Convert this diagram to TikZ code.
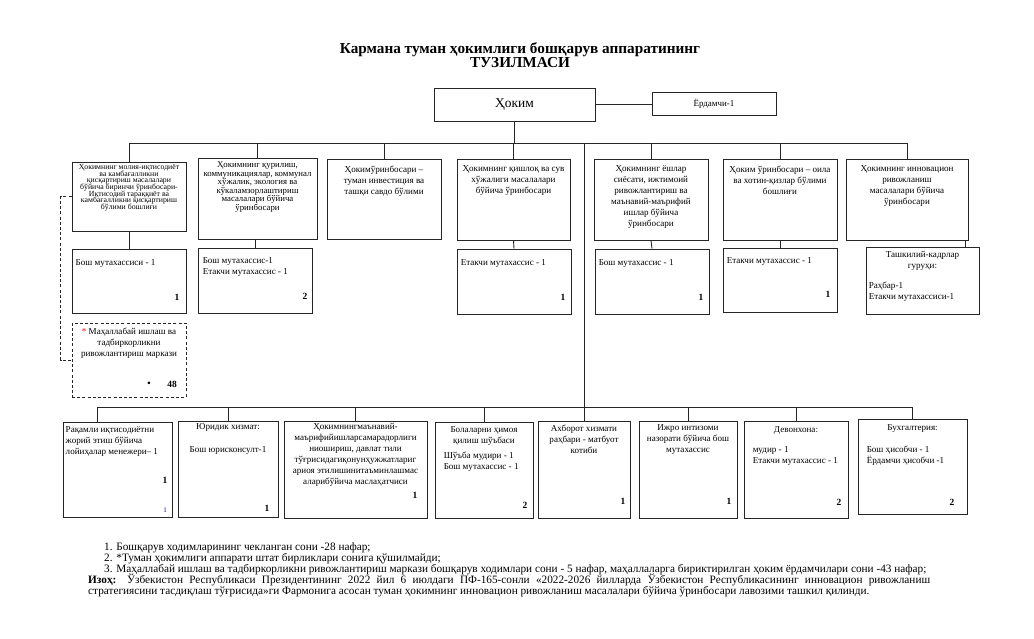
\documentclass[tikz,border=0pt]{standalone}
\usepackage{fontspec}
\setmainfont{Liberation Serif}
\usetikzlibrary{positioning}
\newcommand\tightskip{\lineskiplimit=-20pt\relax}

\begin{document}
\begin{tikzpicture}[x=1bp,y=-1bp,
  box/.style={draw=black!85,line width=0.9bp,inner sep=0pt},
  dbox/.style={box,dash pattern=on 3bp off 2.2bp},
  link/.style={draw=black!85,line width=0.9bp},
  ctxt/.style={inner sep=0pt,align=center,font=\fontsize{9.1}{11}\selectfont},
  ltxt/.style={inner sep=0pt,align=left,font=\fontsize{9.1}{11}\selectfont},
  num/.style={inner sep=0pt,font=\fontsize{9.5}{10}\selectfont\bfseries},
  note/.style={inner sep=0pt,anchor=base west,font=\fontsize{11.3}{11}\selectfont}]

  \useasboundingbox (0,0) rectangle (1034,639);
  \fill[white] (0,0) rectangle (1034,639);

  % title
  \node[inner sep=0pt,align=center,font=\fontsize{15.3}{13.5}\selectfont\bfseries\tightskip] (title) at (520,55)
    {Кармана туман ҳокимлиги бошқарув аппаратининг\\ТУЗИЛМАСИ};

  % head
  \node[box,minimum width=161bp,minimum height=33bp,font=\fontsize{13.5}{14}\selectfont] (hokim) at (514.5,104.5) {Ҳоким};
  \node[box,minimum width=124bp,minimum height=23bp,font=\fontsize{9}{10}\selectfont] (yordam) at (714,103.5) {Ёрдамчи-1};
  \coordinate (hbus) at (514.5,143);
  \coordinate (lbus) at (584,407);

  % deputies
  \node[box,minimum width=114bp,minimum height=69bp] (t1) at (129,196.5) {};
  \node[box,minimum width=119bp,minimum height=81bp] (t2) at (257.5,198.5) {};
  \node[box,minimum width=114bp,minimum height=80bp] (t3) at (384,199) {};
  \node[box,minimum width=113bp,minimum height=81bp] (t4) at (513.5,199.5) {};
  \node[box,minimum width=114bp,minimum height=81bp] (t5) at (651,199.5) {};
  \node[box,minimum width=114bp,minimum height=81bp] (t6) at (780,199.5) {};
  \node[box,minimum width=122bp,minimum height=81bp] (t7) at (907,199.5) {};

  \node[ctxt,font=\fontsize{7.8}{6.6}\selectfont\tightskip,below=3bp of t1.north] (t1txt)
    {Ҳокимнинг молия-иқтисодиёт\\ва камбағалликни\\қисқартириш масалалари\\бўйича биринчи ўринбосари-\\Иқтисодий тараққиёт ва\\камбағалликни қисқартириш\\бўлими бошлиғи};
  \node[ctxt,font=\fontsize{8.8}{8.6}\selectfont\tightskip,below=4bp of t2.north] (t2txt)
    {Ҳокимнинг қурилиш,\\коммуникациялар, коммунал\\хўжалик, экология ва\\кўкаламзорлаштириш\\масалалари бўйича\\ўринбосари};
  \node[ctxt,below=7bp of t3.north] (t3txt) {Ҳокимўринбосари –\\туман инвестиция ва\\ташқи савдо бўлими};
  \node[ctxt,below=7bp of t4.north] (t4txt) {Ҳокимнинг қишлоқ ва сув\\хўжалиги масалалари\\бўйича ўринбосари};
  \node[ctxt,below=7bp of t5.north] (t5txt) {Ҳокимнинг ёшлар\\сиёсати, ижтимоий\\ривожлантириш ва\\маънавий-маърифий\\ишлар бўйича\\ўринбосари};
  \node[ctxt,below=7bp of t6.north] (t6txt) {Ҳоким ўринбосари – оила\\ва хотин-қизлар бўлими\\бошлиғи};
  \node[ctxt,below=7bp of t7.north] (t7txt) {Ҳокимнинг инновацион\\ривожланиш\\масалалари бўйича\\ўринбосари};

  % staff under deputies
  \node[box,minimum width=114bp,minimum height=64bp] (r1) at (129,281) {};
  \node[box,minimum width=114bp,minimum height=65bp] (r2) at (255,280.5) {};
  \node[dbox,minimum width=114bp,minimum height=74bp] (mahalla) at (129,360) {};
  \node[box,minimum width=114bp,minimum height=65bp] (r4) at (514,281.5) {};
  \node[box,minimum width=114bp,minimum height=65bp] (r5) at (652,281.5) {};
  \node[box,minimum width=114bp,minimum height=64bp] (r6) at (780,280) {};
  \node[box,minimum width=113bp,minimum height=67bp] (r7) at (922.5,280.5) {};

  \node[ltxt,below right=11bp and 4bp of r1.north west] (r1txt) {Бош мутахассиси - 1};
  \node[ltxt,below right=10bp and 5bp of r2.north west] (r2txt) {Бош мутахассис-1\\Етакчи мутахассис - 1};
  \node[ctxt,below=5bp of mahalla.north] (mahtxt) {\textcolor{red}{*} Маҳаллабай ишлаш ва\\тадбиркорликни\\ривожлантириш маркази};
  \node[ltxt,below right=11bp and 4bp of r4.north west] (r4txt) {Етакчи мутахассис - 1};
  \node[ltxt,below right=11bp and 4bp of r5.north west] (r5txt) {Бош мутахассис - 1};
  \node[ltxt,below right=10bp and 4bp of r6.north west] (r6txt) {Етакчи мутахассис - 1};
  \node[ctxt,below=5bp of r7.north] (r7head) {Ташкилий-кадрлар\\гуруҳи:};
  \node[ltxt,below right=35bp and 3bp of r7.north west] (r7txt) {Раҳбар-1\\Етакчи мутахассиси-1};

  \node[num] (r1n) at (177,297) {1};
  \node[num] (r2n) at (305,296) {2};
  \node[num] (mahdot) at (149,384) {•};
  \node[num] (mahn) at (172,384) {48};
  \node[num] (r4n) at (563,297) {1};
  \node[num] (r5n) at (701,297) {1};
  \node[num] (r6n) at (828,294) {1};

  % departments
  \node[box,minimum width=109bp,minimum height=95bp] (b1) at (117.5,469.5) {};
  \node[box,minimum width=100bp,minimum height=96bp] (b2) at (228,469) {};
  \node[box,minimum width=143bp,minimum height=97bp] (b3) at (355.5,469.5) {};
  \node[box,minimum width=98bp,minimum height=96bp] (b4) at (484,470) {};
  \node[box,minimum width=92bp,minimum height=97bp] (b5) at (584,469.5) {};
  \node[box,minimum width=98bp,minimum height=97bp] (b6) at (688,469.5) {};
  \node[box,minimum width=104bp,minimum height=97bp] (b7) at (796,469.5) {};
  \node[box,minimum width=109bp,minimum height=95bp] (b8) at (912.5,466.5) {};

  \node[ltxt,below right=5bp and 3bp of b1.north west] (b1txt) {Рақамли иқтисодиётни\\жорий этиш бўйича\\лойиҳалар менежери– 1};
  \node[ctxt,below=3bp of b2.north] (b2txt) {Юридик хизмат:\\[12bp]Бош юрисконсулт-1};
  \node[ctxt,below=3bp of b3.north] (b3txt) {Ҳокимнингмаънавий-\\маърифийишларсамарадорлиги\\ниошириш, давлат тили\\тўғрисидагиқонунҳужжатлариг\\ариоя этилишинитаъминлашмас\\аларибўйича маслаҳатчиси};
  \node[ctxt,below=5bp of b4.north] (b4head) {Болаларни ҳимоя\\қилиш шўъбаси};
  \node[ltxt,below right=30bp and 9bp of b4.north west] (b4txt) {Шўъба мудири - 1\\Бош мутахассис - 1};
  \node[ctxt,below=4bp of b5.north] (b5txt) {Ахборот хизмати\\раҳбари - матбуот\\котиби};
  \node[ctxt,below=4bp of b6.north] (b6txt) {Ижро интизоми\\назорати бўйича бош\\мутахассис};
  \node[ctxt,below=6bp of b7.north] (b7head) {Девонхона:};
  \node[ltxt,below right=26bp and 9bp of b7.north west] (b7txt) {мудир - 1\\Етакчи мутахассис - 1};
  \node[ctxt,below=6bp of b8.north] (b8head) {Бухгалтерия:};
  \node[ltxt,below right=27bp and 9bp of b8.north west] (b8txt) {Бош ҳисобчи - 1\\Ёрдамчи ҳисобчи -1};

  \node[num] (b1n) at (165,480) {1};
  \node[num,font=\fontsize{7}{8}\selectfont,text=blue!75!black] (b1m) at (165,510) {1};
  \node[num] (b2n) at (267,508) {1};
  \node[num] (b3n) at (415,495) {1};
  \node[num] (b4n) at (525,505) {2};
  \node[num] (b5n) at (623,501) {1};
  \node[num] (b6n) at (729,501) {1};
  \node[num] (b7n) at (839,502) {2};
  \node[num] (b8n) at (952,502) {2};

  % connectors
  \draw[link] (hokim.east) -- (hokim.east -| yordam.west);
  \draw[link] (hokim.south) -- (hbus);
  \draw[link] (t1.north |- hbus) -- (t7.north |- hbus);
  \foreach \t in {t1,t2,t3,t4,t5,t6,t7}
    \draw[link] (\t.north |- hbus) -- (\t.north);
  \draw[link] (t1.south) -- (r1.north);
  \draw[link] (t2.south -| r2.north) -- (r2.north);
  \draw[link] (t4.south) -- (r4.north);
  \draw[link] (t5.south) -- (r5.north);
  \draw[link] (t6.south) -- (r6.north);
  \draw[link] ([xshift=-3bp]t7.south east) -- ([xshift=-3bp]t7.south east |- r7.north);
  \draw[link,dash pattern=on 3bp off 2.2bp] (t1.west) -- ++(-11,0) |- (mahalla.west);
  \draw[link] (b5.north |- hbus) -- (b5.north);
  \draw[link] ([xshift=-20bp]b1.north |- lbus) -- (b8.north |- lbus);
  \draw[link] ([xshift=-20bp]b1.north |- lbus) -- ([xshift=-20bp]b1.north);
  \foreach \b in {b2,b3,b4,b6,b7,b8}
    \draw[link] (\b.north |- lbus) -- (\b.north);

  % notes
  \node[note] (n1) at (104,550.5) {1. Бошқарув ходимларининг чекланган сони -28 нафар;};
  \node[note] (n2) at (104,561.5) {2. *Туман ҳокимлиги аппарати штат бирликлари сонига қўшилмайди;};
  \node[note] (n3) at (104,572.5) {3. Маҳаллабай ишлаш ва тадбиркорликни ривожлантириш маркази бошқарув ходимлари сони - 5 нафар, маҳаллаларга бириктирилган ҳоким ёрдамчилари сони -43 нафар;};
  \node[note] (n4) at (88,583.5) {\makebox[842bp][s]{\textbf{Изоҳ:} Ўзбекистон Республикаси Президентининг 2022 йил 6 июлдаги ПФ-165-сонли «2022-2026 йилларда Ўзбекистон Республикасининг инновацион ривожланиш}};
  \node[note] (n5) at (88,594.5) {стратегиясини тасдиқлаш тўғрисида»ги Фармонига асосан туман ҳокимнинг инновацион ривожланиш масалалари бўйича ўринбосари лавозими ташкил қилинди.};
\end{tikzpicture}
\end{document}
